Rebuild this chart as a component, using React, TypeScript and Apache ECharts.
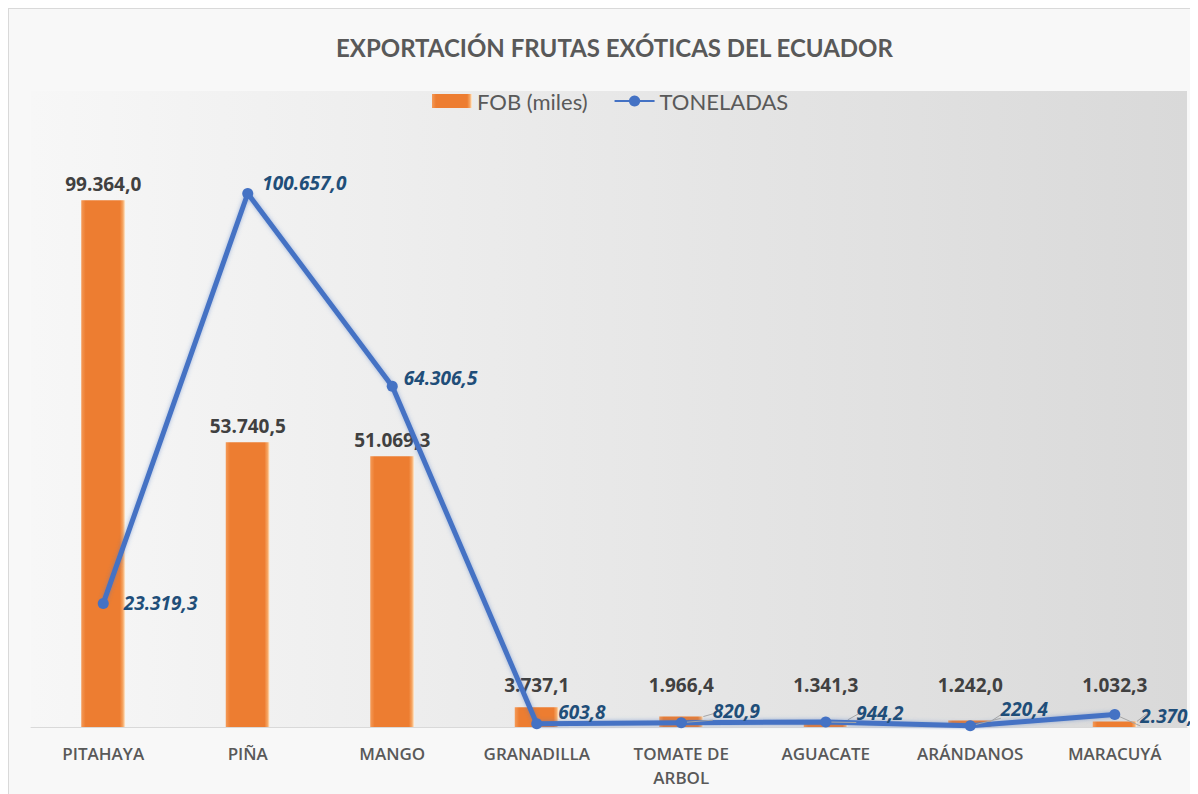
import React, { useEffect, useRef } from "react";
import * as echarts from "echarts";

const categories = ["PITAHAYA", "PIÑA", "MANGO", "GRANADILLA", "TOMATE DE ARBOL", "AGUACATE", "ARÁNDANOS", "MARACUYÁ"];
const fobValues = [99364.0, 53740.5, 51069.3, 3737.1, 1966.4, 1341.3, 1242.0, 1032.3];
const toneladasValues = [23319.3, 100657.0, 64306.5, 603.8, 820.9, 944.2, 220.4, 2370.7];

// label nudges (pixels) to mimic the reference placement
const fobLabelShift = [0, 0, 0, -6, -15, -18, -19, -20];
const tonLabelShift: [number, number][] = [[15, 0], [9, -11], [6, -8], [16, -12], [26, -12], [25, -9], [25, -17], [20, 2]];

function fmt(v: number): string {
  const s = v.toFixed(1);
  const [ip, dp] = s.split(".");
  const withDots = ip.replace(/\B(?=(\d{3})+(?!\d))/g, ".");
  return withDots + "," + dp;
}

export default function App() {
  const ref = useRef<HTMLDivElement>(null);
  useEffect(() => {
    if (!ref.current) return;
    const chart = echarts.init(ref.current, null, { renderer: "svg" });
    const option: any = {
      animation: false,
      backgroundColor: "#f8f8f8",
      title: {
        text: "EXPORTACIÓN FRUTAS EXÓTICAS DEL ECUADOR",
        left: 322,
        top: 21,
        textStyle: { fontFamily: "Lato", fontSize: 24, fontWeight: "bold", color: "#595959" },
      },
      legend: {
        top: 76,
        left: 418,
        itemWidth: 40,
        itemHeight: 14,
        itemGap: 26,
        textStyle: { fontFamily: "Lato", fontSize: 22, color: "#595959" },
        data: [
          { name: "FOB (miles)", icon: "rect" },
          { name: "TONELADAS" },
        ],
      },
      grid: {
        left: 22,
        right: 11,
        top: 82,
        bottom: 67,
        show: true,
        borderWidth: 0,
        backgroundColor: new echarts.graphic.LinearGradient(0, 0, 1, 0, [
          { offset: 0, color: "#f7f7f7" },
          { offset: 1, color: "#d9d9d9" },
        ]),
      },
      xAxis: {
        type: "category",
        data: categories,
        axisTick: { show: false },
        axisLine: { lineStyle: { color: "#d9d9d9", width: 1 } },
        axisLabel: {
          margin: 14,
          interval: 0,
          fontFamily: "Open Sans",
          fontSize: 17,
          fontWeight: 600,
          color: "#595959",
          lineHeight: 24,
          formatter: (v: string) => v.replace(" DE ", " DE\n"),
        },
      },
      yAxis: { type: "value", show: false, min: 0, max: 120000, splitLine: { show: false } },
      series: [
        {
          name: "FOB (miles)",
          type: "bar",
          barWidth: 44,
          z: 2,
          itemStyle: {
            color: new echarts.graphic.LinearGradient(0, 0, 1, 0, [
              { offset: 0, color: "#f49a58" },
              { offset: 0.1, color: "#ed7d31" },
              { offset: 0.88, color: "#ed7d31" },
              { offset: 0.95, color: "#f6a866" },
              { offset: 1, color: "#fff2dc" },
            ]),
          },
          data: fobValues.map((v, i) => ({
            value: v,
            label: { offset: [0, fobLabelShift[i]] },
            labelLine: { show: i >= 4, lineStyle: { color: "#a6a6a6", width: 1 } },
          })),
          label: {
            show: true,
            position: "top",
            distance: 7,
            fontFamily: "Open Sans",
            fontSize: 19,
            fontWeight: "bold",
            color: "#404040",
            formatter: (p: any) => fmt(p.value),
          },
        },
        {
          name: "TONELADAS",
          type: "line",
          z: 5,
          symbol: "circle",
          symbolSize: 11,
          lineStyle: { color: "#4472c4", width: 5, shadowBlur: 4, shadowColor: "rgba(68,114,196,0.5)" },
          itemStyle: { color: "#4472c4" },
          data: toneladasValues.map((v, i) => ({
            value: v,
            label: { offset: tonLabelShift[i] },
            labelLine: { show: i >= 4, lineStyle: { color: "#a6a6a6", width: 1 } },
          })),
          label: {
            show: true,
            position: "right",
            distance: 0,
            fontFamily: "Open Sans",
            fontSize: 19,
            fontWeight: "bold",
            fontStyle: "italic",
            color: "#1f4e79",
            formatter: (p: any) => fmt(p.value),
          },
        },
      ],
    };
    chart.setOption(option);
    return () => chart.dispose();
  }, []);
  return (
    <div style={{ width: 1190, height: 786, borderTop: "1px solid #d9d9d9", borderLeft: "1px solid #d9d9d9", boxSizing: "border-box" }}>
      <div ref={ref} style={{ width: 1189, height: 785 }} />
    </div>
  );
}
